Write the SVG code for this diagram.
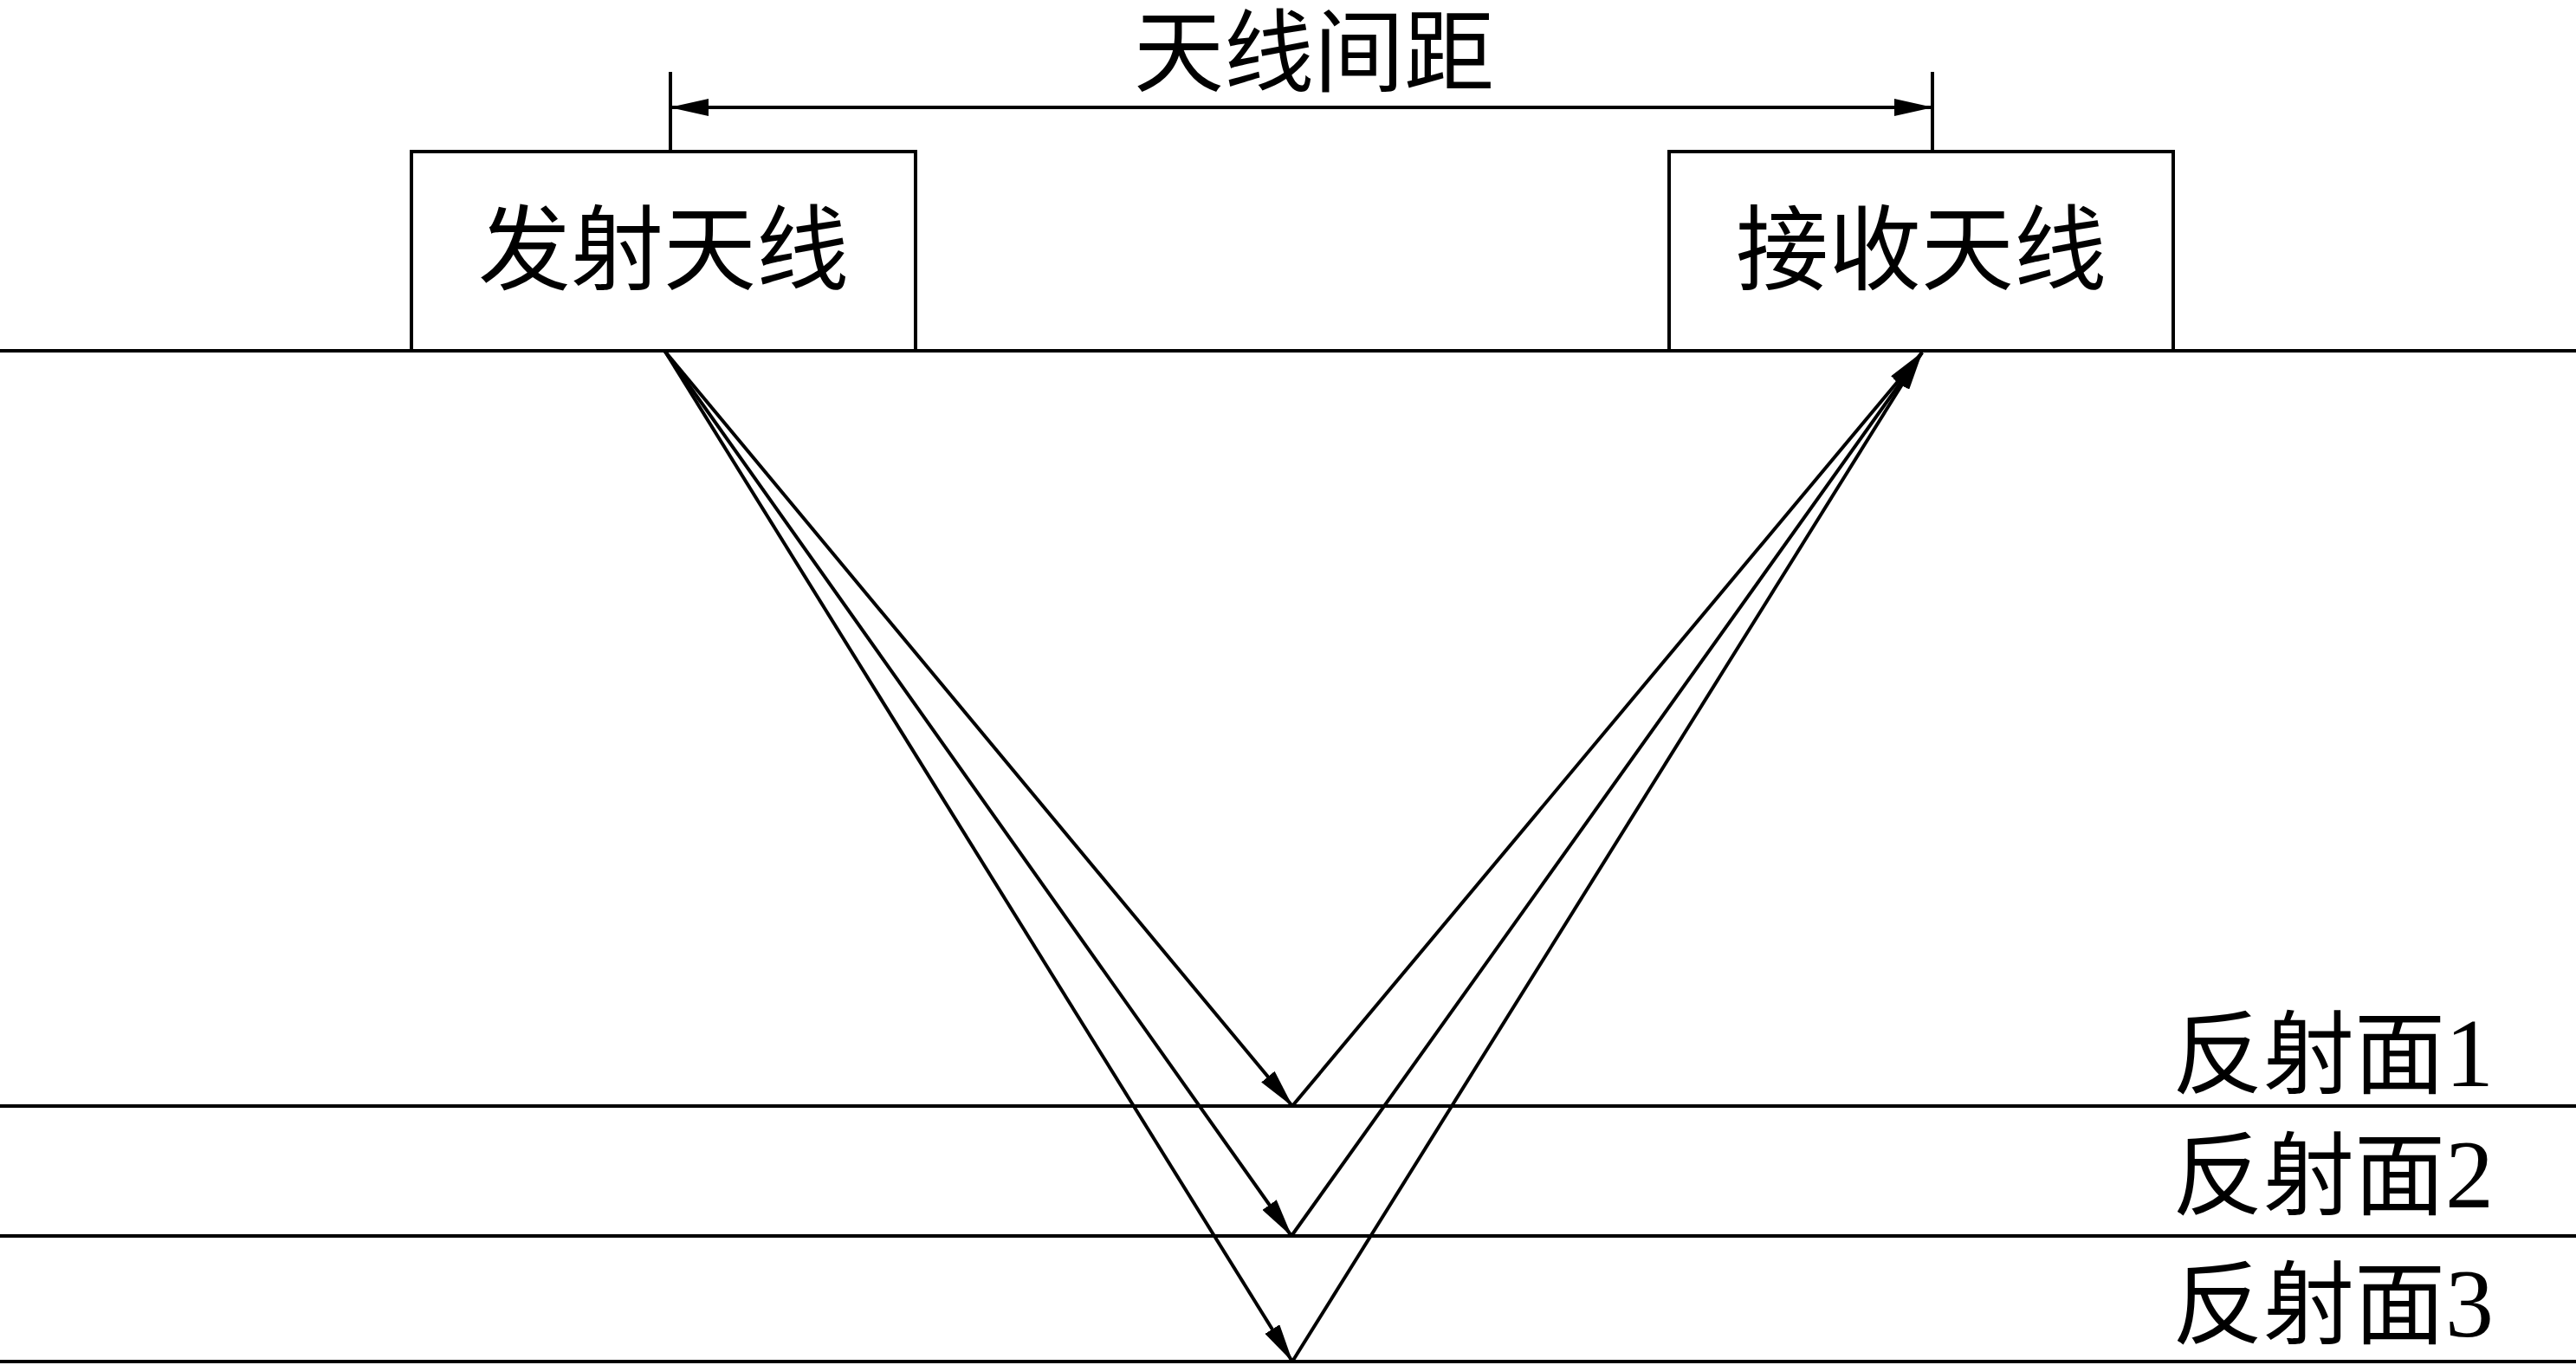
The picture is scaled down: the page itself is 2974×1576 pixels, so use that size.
<svg xmlns="http://www.w3.org/2000/svg" width="2974" height="1576" viewBox="0 0 2974 1576">
<style>
.ln{stroke:#000;stroke-width:4;fill:none}
.bx{stroke:#000;stroke-width:4;fill:#fff}
.t{font-family:"Noto Sans CJK SC","Liberation Serif",serif;font-size:107px;fill:#000}
.top{font-size:104px}
.lbl{font-family:"Liberation Serif","Noto Sans CJK SC",serif;font-size:105px;fill:#000}
.cjk{font-family:"Noto Sans CJK SC",sans-serif}
.dg{font-size:112px}
</style>
<defs>
<marker id="ah" markerUnits="userSpaceOnUse" viewBox="0 0 45 20" markerWidth="45" markerHeight="20" refX="44" refY="10" orient="auto-start-reverse">
<path d="M0,0 L45,10 L0,20 z" fill="#000"/>
</marker>
</defs>
<rect width="2974" height="1576" fill="#fff"/>
<g id="surfaces">
<line class="ln" x1="0" y1="405" x2="2974" y2="405"/>
<line class="ln" x1="0" y1="1277" x2="2974" y2="1277"/>
<line class="ln" x1="0" y1="1427" x2="2974" y2="1427"/>
<line class="ln" x1="0" y1="1572" x2="2974" y2="1572"/>
</g>
<g id="tx">
<rect class="bx" x="475" y="175" width="582" height="230"/>
<text class="t" x="766" y="326" text-anchor="middle">发射天线</text>
</g>
<g id="rx">
<rect class="bx" x="1927" y="175" width="582" height="230"/>
<text class="t" x="2218" y="326" text-anchor="middle">接收天线</text>
</g>
<g id="dimension">
<line class="ln" x1="774" y1="83" x2="774" y2="175"/>
<line class="ln" x1="2231" y1="83" x2="2231" y2="175"/>
<line class="ln" x1="774" y1="124" x2="2231" y2="124" marker-start="url(#ah)" marker-end="url(#ah)"/>
<text class="t top" x="1517" y="98" text-anchor="middle">天线间距</text>
</g>
<g id="labels">
<text class="lbl" x="2508" y="1254"><tspan class="cjk">反射面</tspan><tspan class="dg">1</tspan></text>
<text class="lbl" x="2508" y="1394"><tspan class="cjk">反射面</tspan><tspan class="dg">2</tspan></text>
<text class="lbl" x="2508" y="1543"><tspan class="cjk">反射面</tspan><tspan class="dg">3</tspan></text>
</g>
<g id="connectors">
<line class="ln" x1="768" y1="406" x2="1492" y2="1277" marker-end="url(#ah)"/>
<line class="ln" x1="768" y1="406" x2="1491" y2="1427" marker-end="url(#ah)"/>
<line class="ln" x1="768" y1="406" x2="1492" y2="1572" marker-end="url(#ah)"/>
<line class="ln" x1="1492" y1="1277" x2="2219" y2="407" marker-end="url(#ah)"/>
<line class="ln" x1="1491" y1="1427" x2="2219" y2="407" marker-end="url(#ah)"/>
<line class="ln" x1="1492" y1="1572" x2="2219" y2="407" marker-end="url(#ah)"/>
</g>
</svg>
